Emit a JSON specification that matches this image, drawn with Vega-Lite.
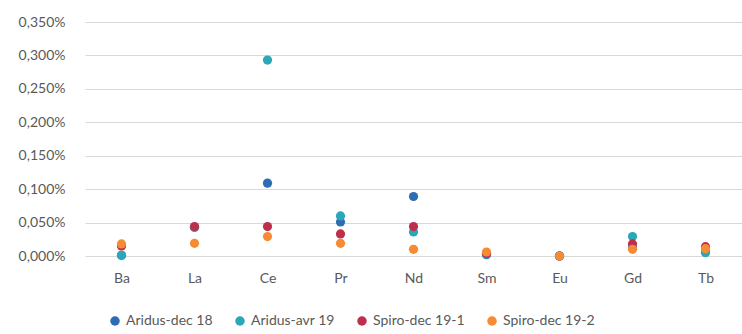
{
  "$schema": "https://vega.github.io/schema/vega-lite/v6.json",
  "width": 657,
  "height": 234,
  "autosize": "none",
  "padding": {"left": 85, "top": 22, "right": 0, "bottom": 78},
  "background": "white",
  "config": {"view": {"stroke": null}, "font": "Lato"},
  "data": {
    "values": [
      {"el": "Ba", "s": "Aridus-dec 18", "v": 0.001},
      {"el": "La", "s": "Aridus-dec 18", "v": 0.043},
      {"el": "Ce", "s": "Aridus-dec 18", "v": 0.109},
      {"el": "Pr", "s": "Aridus-dec 18", "v": 0.051},
      {"el": "Nd", "s": "Aridus-dec 18", "v": 0.089},
      {"el": "Sm", "s": "Aridus-dec 18", "v": 0.002},
      {"el": "Eu", "s": "Aridus-dec 18", "v": 0.000},
      {"el": "Gd", "s": "Aridus-dec 18", "v": 0.012},
      {"el": "Tb", "s": "Aridus-dec 18", "v": 0.006},
      {"el": "Ba", "s": "Aridus-avr 19", "v": 0.001},
      {"el": "La", "s": "Aridus-avr 19", "v": 0.043},
      {"el": "Ce", "s": "Aridus-avr 19", "v": 0.293},
      {"el": "Pr", "s": "Aridus-avr 19", "v": 0.060},
      {"el": "Nd", "s": "Aridus-avr 19", "v": 0.036},
      {"el": "Sm", "s": "Aridus-avr 19", "v": 0.003},
      {"el": "Eu", "s": "Aridus-avr 19", "v": 0.000},
      {"el": "Gd", "s": "Aridus-avr 19", "v": 0.029},
      {"el": "Tb", "s": "Aridus-avr 19", "v": 0.005},
      {"el": "Ba", "s": "Spiro-dec 19-1", "v": 0.015},
      {"el": "La", "s": "Spiro-dec 19-1", "v": 0.044},
      {"el": "Ce", "s": "Spiro-dec 19-1", "v": 0.044},
      {"el": "Pr", "s": "Spiro-dec 19-1", "v": 0.033},
      {"el": "Nd", "s": "Spiro-dec 19-1", "v": 0.044},
      {"el": "Sm", "s": "Spiro-dec 19-1", "v": 0.004},
      {"el": "Eu", "s": "Spiro-dec 19-1", "v": 0.000},
      {"el": "Gd", "s": "Spiro-dec 19-1", "v": 0.018},
      {"el": "Tb", "s": "Spiro-dec 19-1", "v": 0.014},
      {"el": "Ba", "s": "Spiro-dec 19-2", "v": 0.018},
      {"el": "La", "s": "Spiro-dec 19-2", "v": 0.019},
      {"el": "Ce", "s": "Spiro-dec 19-2", "v": 0.029},
      {"el": "Pr", "s": "Spiro-dec 19-2", "v": 0.019},
      {"el": "Nd", "s": "Spiro-dec 19-2", "v": 0.010},
      {"el": "Sm", "s": "Spiro-dec 19-2", "v": 0.006},
      {"el": "Eu", "s": "Spiro-dec 19-2", "v": 0.000},
      {"el": "Gd", "s": "Spiro-dec 19-2", "v": 0.010},
      {"el": "Tb", "s": "Spiro-dec 19-2", "v": 0.011}
    ]
  },
  "mark": {"type": "circle", "size": 85, "opacity": 1},
  "encoding": {
    "x": {
      "field": "el",
      "type": "nominal",
      "sort": ["Ba", "La", "Ce", "Pr", "Nd", "Sm", "Eu", "Gd", "Tb"],
      "scale": {"type": "point", "padding": 0.5},
      "axis": {"title": null, "labelAngle": 0, "domain": false, "ticks": false, "grid": false, "labelPadding": 15, "labelFontSize": 14, "labelColor": "#595959"}
    },
    "y": {
      "field": "v",
      "type": "quantitative",
      "scale": {"domain": [0, 0.35], "nice": false},
      "axis": {
        "title": null,
        "values": [0, 0.05, 0.1, 0.15, 0.2, 0.25, 0.3, 0.35],
        "labelExpr": "replace(format(datum.value, '.3f'), '.', ',') + '%'",
        "domain": false,
        "ticks": false,
        "gridColor": "#d9d9d9",
        "labelPadding": 20,
        "labelFontSize": 14,
        "labelColor": "#595959"
      }
    },
    "color": {
      "field": "s",
      "type": "nominal",
      "scale": {
        "domain": ["Aridus-dec 18", "Aridus-avr 19", "Spiro-dec 19-1", "Spiro-dec 19-2"],
        "range": ["#2E6DB4", "#2AA8B8", "#BE2F4B", "#F68B33"]
      },
      "legend": {
        "title": null,
        "orient": "none",
        "legendX": 23,
        "legendY": 292,
        "direction": "horizontal",
        "symbolType": "circle",
        "symbolSize": 90,
        "labelFontSize": 14,
        "labelColor": "#595959",
        "columnPadding": 20,
        "labelOffset": 4
      }
    }
  }
}
